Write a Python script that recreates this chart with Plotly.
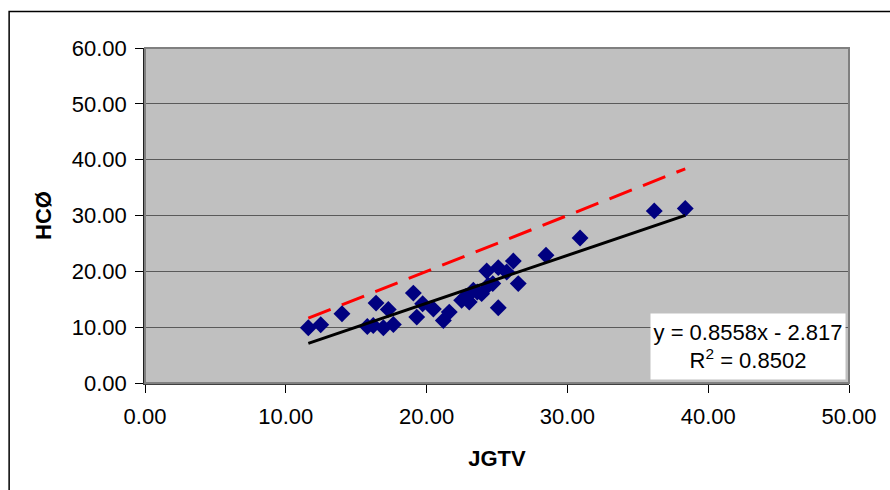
import plotly.graph_objects as go

# Data
jgtv = [11.6, 12.48, 13.99, 15.79, 16.21, 16.41, 16.93, 17.28, 17.64, 19.06,
        19.3, 19.72, 20.48, 21.19, 21.61, 22.49, 22.8, 23.03, 23.32, 23.6,
        23.91, 24.27, 24.38, 24.7, 25.09, 25.09, 25.69, 26.16, 26.51, 28.48,
        30.9, 36.17, 38.37]
hco = [9.9, 10.44, 12.41, 10.13, 10.31, 14.31, 9.9, 13.18, 10.49, 16.1,
       11.8, 14.2, 13.24, 11.2, 12.7, 14.8, 15.5, 14.5, 16.6, 16.3,
       16.0, 20.05, 17.5, 17.8, 20.66, 13.49, 19.87, 21.85, 17.8, 22.87,
       25.97, 30.82, 31.25]

slope = 0.8558
intercept = -2.817
r2 = 0.8502

x_ticks = [0, 10, 20, 30, 40, 50]
y_ticks = [0, 10, 20, 30, 40, 50, 60]

xmin, xmax = min(jgtv), max(jgtv)
line_x = [xmin, xmax]
trend_y = [slope * v + intercept for v in line_x]
ident_y = [v for v in line_x]

FONT = "Liberation Sans, Arial, sans-serif"

fig = go.Figure()
fig.add_trace(go.Scatter(x=line_x, y=ident_y, mode="lines",
                         line=dict(color="#FF0000", width=3, dash="24px,12px"),
                         showlegend=False, hoverinfo="skip"))
fig.add_trace(go.Scatter(x=jgtv, y=hco, mode="markers",
                         marker=dict(symbol="diamond", size=13, color="#000080",
                                     line=dict(width=0)),
                         showlegend=False))
fig.add_trace(go.Scatter(x=line_x, y=trend_y, mode="lines",
                         line=dict(color="#000000", width=3),
                         showlegend=False, hoverinfo="skip"))

fig.update_layout(
    width=890, height=490,
    margin=dict(l=145, r=41, t=48, b=107, pad=0),
    paper_bgcolor="#FFFFFF",
    plot_bgcolor="#C0C0C0",
    font=dict(family=FONT, size=22, color="#000000"),
    xaxis=dict(range=[0, 50], tickvals=x_ticks, tickformat=".2f",
               ticks="outside", ticklen=8, tickcolor="#000000", tickwidth=1,
               ticklabelstandoff=5,
               showgrid=False, zeroline=False,
               showline=True, linecolor="#404040", linewidth=2,
               title=dict(text="<b>JGTV</b>", font=dict(size=22), standoff=22),
               tickfont=dict(size=22)),
    yaxis=dict(range=[0, 60], tickvals=y_ticks, tickformat=".2f",
               ticks="outside", ticklen=8, tickcolor="#000000", tickwidth=1,
               ticklabelstandoff=4,
               showgrid=True, gridcolor="#5A5A5A", gridwidth=1,
               zeroline=False,
               showline=True, linecolor="#202020", linewidth=1.5,
               title=dict(text="<b>HCØ</b>", font=dict(size=22), standoff=14),
               tickfont=dict(size=22)),
    shapes=[
        dict(type="rect", xref="paper", yref="paper", x0=0, y0=0, x1=1, y1=1,
             line=dict(color="#808080", width=2), layer="above"),
        dict(type="rect", xref="paper", yref="paper",
             x0=-0.193, y0=-0.5, x1=1.2, y1=1.109,
             line=dict(color="#000000", width=1.5), layer="below"),
    ],
    annotations=[
        dict(xref="x", yref="y", x=42.83, y=6.46,
             text=f"y = {slope}x - {abs(intercept)}<br>R<sup>2</sup> = {r2}",
             showarrow=False, bgcolor="#FFFFFF", width=192, height=63,
             align="center", valign="middle",
             font=dict(size=22, family=FONT, color="#000000")),
    ],
)

fig.write_html("out.html")
